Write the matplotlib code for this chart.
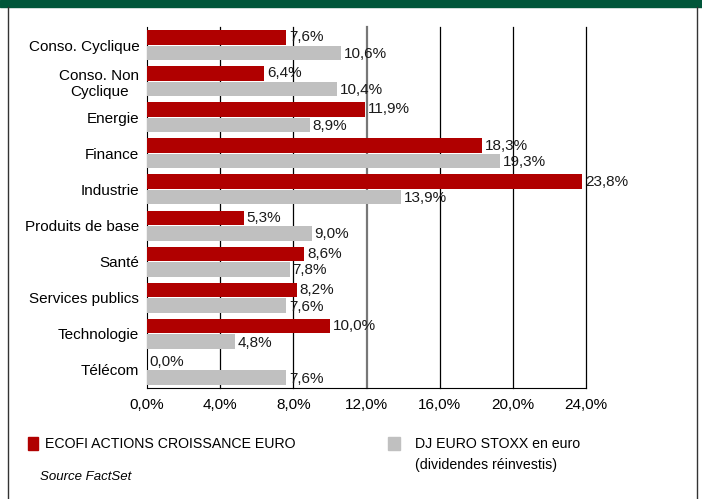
import matplotlib.pyplot as plt
from matplotlib.patches import Rectangle
from matplotlib.lines import Line2D

plt.rcParams['font.family'] = ['Liberation Sans', 'DejaVu Sans']

categories = ["Conso. Cyclique", "Conso. Non\nCyclique", "Energie", "Finance", "Industrie",
              "Produits de base", "Santé", "Services publics", "Technologie", "Télécom"]
ecofi = [7.6, 6.4, 11.9, 18.3, 23.8, 5.3, 8.6, 8.2, 10.0, 0.0]
stoxx = [10.6, 10.4, 8.9, 19.3, 13.9, 9.0, 7.8, 7.6, 4.8, 7.6]
xticks = [0, 4, 8, 12, 16, 20, 24]

RED = "#B00000"
GREY = "#C0C0C0"
GREEN = "#00563A"

fig = plt.figure(figsize=(7.02, 4.99), dpi=100)
W, H = 702, 499

def fx(px):
    return px / W

def fy(py):
    return 1 - py / H

ax = fig.add_axes([fx(147), fy(388), fx(586) - fx(147), fy(27) - fy(388)])

h = 0.43
pos = list(range(len(categories)))
ax.barh([p - h / 2 for p in pos], ecofi, height=h - 0.03, color=RED, zorder=3)
ax.barh([p + h / 2 for p in pos], stoxx, height=h - 0.03, color=GREY, zorder=3)

def fmt(v):
    return ("%.1f%%" % v).replace(".", ",")

for p, v in zip(pos, ecofi):
    ax.text(v + 0.15, p - h / 2, fmt(v), va="center", ha="left", fontsize=11, color="#1a1a1a", zorder=4)
for p, v in zip(pos, stoxx):
    ax.text(v + 0.15, p + h / 2 + 0.03, fmt(v), va="center", ha="left", fontsize=11, color="#1a1a1a", zorder=4)

ax.set_xlim(0, 24)
ax.set_ylim(9.5, -0.5)
ax.set_yticks(pos)
ax.set_yticklabels(categories, fontsize=11, multialignment="center")
ax.set_xticks(xticks)
ax.set_xticklabels([fmt(t) for t in xticks], fontsize=11)
ax.tick_params(axis="both", length=0, pad=7)
ax.tick_params(axis="y", pad=5.5)
for t in xticks[1:]:
    if t == 12:
        ax.axvline(t, color="#777777", linewidth=1.6, zorder=0, clip_on=False)
    else:
        ax.axvline(t, color="black", linewidth=0.9, zorder=0, clip_on=False)
for s in ["top", "right"]:
    ax.spines[s].set_visible(False)
ax.spines["left"].set_color("black")
ax.spines["bottom"].set_color("black")

# frame and top band
fig.add_artist(Rectangle((0, fy(7)), 1, 1 - fy(7), transform=fig.transFigure, color=GREEN))
fig.add_artist(Line2D([fx(8), fx(8)], [0, fy(7)], transform=fig.transFigure, color="#333333", lw=1))
fig.add_artist(Line2D([fx(697), fx(697)], [0, fy(7)], transform=fig.transFigure, color="#333333", lw=1))

# legend
fig.add_artist(Rectangle((fx(28), fy(450)), fx(10), fy(437) - fy(450), transform=fig.transFigure, color=RED))
fig.text(fx(45), fy(444), "ECOFI ACTIONS CROISSANCE EURO", fontsize=10.2, va="center", ha="left")
fig.add_artist(Rectangle((fx(388), fy(450)), fx(12), fy(437) - fy(450), transform=fig.transFigure, color=GREY))
fig.text(fx(415), fy(444), "DJ EURO STOXX en euro", fontsize=10.2, va="center", ha="left")
fig.text(fx(415), fy(465), "(dividendes réinvestis)", fontsize=10.2, va="center", ha="left")
fig.text(fx(40), fy(477), "Source FactSet", fontsize=9.5, va="center", ha="left", style="italic")

fig.savefig("out.png", dpi=100)
